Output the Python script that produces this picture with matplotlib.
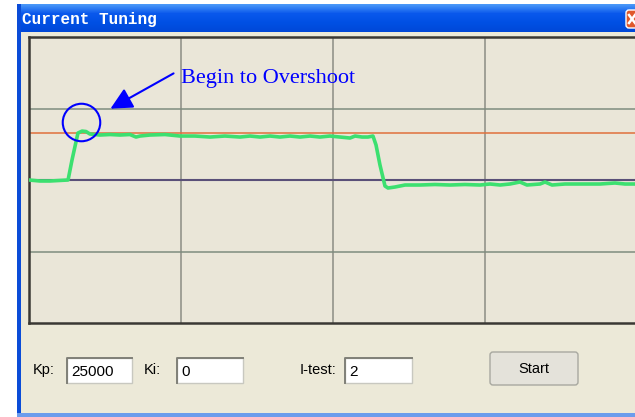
#!/usr/bin/env python3
import numpy as np
import matplotlib
matplotlib.use("Agg")
import matplotlib.pyplot as plt
from matplotlib.colors import LinearSegmentedColormap
from matplotlib.patches import Rectangle, FancyBboxPatch


# trace, in grid divisions (x: 0..4, y: 0..4)
time_div = [
    0.000, 0.072, 0.138, 0.257, 0.283, 0.322, 0.349, 0.375, 0.401, 0.467,
    0.533, 0.599, 0.664, 0.704, 0.730, 0.796, 0.895, 0.993, 1.092, 1.191,
    1.289, 1.388, 1.454, 1.520, 1.586, 1.651, 1.717, 1.783, 1.849, 1.914,
    1.980, 2.046, 2.112, 2.145, 2.191, 2.230, 2.263, 2.283, 2.309, 2.342,
    2.362, 2.408, 2.474, 2.572, 2.671, 2.770, 2.868, 2.967, 3.033, 3.099,
    3.164, 3.230, 3.276, 3.362, 3.395, 3.441, 3.526, 3.625, 3.757, 3.855,
    3.921, 3.987,
]
current_div = [
    2.000, 1.986, 1.986, 2.000, 2.280, 2.657, 2.684, 2.678, 2.643, 2.629,
    2.636, 2.629, 2.636, 2.601, 2.615, 2.629, 2.636, 2.615, 2.615, 2.601,
    2.615, 2.601, 2.615, 2.601, 2.615, 2.601, 2.615, 2.601, 2.615, 2.601,
    2.615, 2.601, 2.587, 2.615, 2.601, 2.601, 2.615, 2.490, 2.210, 1.916,
    1.888, 1.902, 1.930, 1.930, 1.937, 1.930, 1.937, 1.930, 1.944, 1.930,
    1.944, 1.972, 1.930, 1.944, 1.972, 1.930, 1.944, 1.944, 1.944, 1.958,
    1.944, 1.944,
]
setpoint_level = 2.657
base_level = 2.0

x_grid = [1, 2, 3]
y_grid = [1, 3]

title = "Current Tuning"
note = "Begin to Overshoot"
fields = [("Kp:", "25000"), ("Ki:", "0"), ("I-test:", "2")]
button = "Start"

W, H = 635, 417
BEIGE = "#ECE9D8"
PLOT_BG = "#EAE6D8"


fig = plt.figure(figsize=(W / 100, H / 100), dpi=100)
fig.patch.set_facecolor("white")

# window chrome, drawn in pixel coordinates
ui = fig.add_axes([0, 0, 1, 1])
ui.set_xlim(0, W)
ui.set_ylim(H, 0)
ui.axis("off")

ui.add_patch(Rectangle((17, 4), W - 17, H - 4, facecolor=BEIGE, edgecolor="none"))
grad = np.linspace(0, 1, 28).reshape(-1, 1)
xp_blue = LinearSegmentedColormap.from_list("xp", ["#4A98F8", "#0A58EC", "#0050E4", "#0048D8"])
ui.imshow(grad, extent=(17, W, 32, 4), cmap=xp_blue, aspect="auto", zorder=1)
ui.add_patch(Rectangle((17, 4), 4, H - 4, facecolor="#0A4CD8", edgecolor="none", zorder=2))
ui.add_patch(Rectangle((17, 413), W - 17, 4, facecolor="#6C9CEC", edgecolor="none", zorder=2))
ui.text(22, 19, title, color="white", fontsize=11.5, fontweight="bold",
        family="Liberation Mono", va="center", ha="left", zorder=3)
ui.add_patch(FancyBboxPatch((626, 10), 12, 18, boxstyle="round,pad=0,rounding_size=3",
                            facecolor="#E0582C", edgecolor="white", linewidth=1.0, zorder=3))
ui.plot([629, 635], [15, 23], color="white", linewidth=1.8, zorder=4)
ui.plot([629, 635], [23, 15], color="white", linewidth=1.8, zorder=4)

# input fields
label_x = [33, 144, 300]
box_x = [(67, 132), (177, 243), (345, 412)]
for (label, value), lx, (bx0, bx1) in zip(fields, label_x, box_x):
    ui.text(lx, 370, label, fontsize=10.5, family="Liberation Sans", ha="left", va="center", color="black")
    ui.add_patch(Rectangle((bx0, 358), bx1 - bx0, 25, facecolor="white", edgecolor="#C8C8C0",
                           linewidth=1.0, zorder=2))
    ui.plot([bx0, bx0, bx1], [383, 358, 358], color="#808078", linewidth=1.4, zorder=3)
    ui.text(bx0 + 4, 372, value, fontsize=11, family="Liberation Sans", ha="left", va="center",
            color="black", zorder=4)

ui.add_patch(FancyBboxPatch((490, 352), 88, 33, boxstyle="round,pad=0,rounding_size=3",
                            facecolor="#E4E2DA", edgecolor="#A8A8A0", linewidth=1.0, zorder=2))
ui.text(534, 369, button, fontsize=10.5, family="Liberation Sans", ha="center", va="center", zorder=3)

# the scope panel
left, right, top, bottom = 29, 637, 37, 323
ax = fig.add_axes([left / W, 1 - bottom / H, (right - left) / W, (bottom - top) / H])
ax.set_facecolor(PLOT_BG)
ax.set_xlim(0, 4)
ax.set_ylim(0, 4)
ax.set_xticks([])
ax.set_yticks([])
for side in ["left", "top", "bottom"]:
    ax.spines[side].set_color("#3A3834")
    ax.spines[side].set_linewidth(1.8)
ax.spines["right"].set_visible(False)

for xv in x_grid:
    ax.axvline(xv, color="#8C8C84", linewidth=1.1, zorder=1)
for yv in y_grid:
    ax.axhline(yv, color="#7E8C7E", linewidth=1.1, zorder=1)
ax.axhline(setpoint_level, color="#E0703C", linewidth=1.1, zorder=2)
ax.axhline(base_level, color="#5A5078", linewidth=1.5, zorder=2)

ax.plot(time_div, current_div, color="#3CE070", linewidth=2.6, solid_joinstyle="round", zorder=3)

# overshoot marker
ax.plot([0.342], [2.811], marker="o", markersize=27, markerfacecolor="none",
        markeredgecolor="#0000FF", markeredgewidth=1.5, zorder=4)
ax.annotate("", xy=(0.52, 2.979), xytext=(0.967, 3.51),
            arrowprops=dict(arrowstyle="-|>,head_length=1.1,head_width=0.55",
                            color="#0000FF", linewidth=1.5, mutation_scale=12), zorder=4)
ax.text(0.997, 3.357, note, color="#0000FF", fontsize=16, family="Liberation Serif",
        ha="left", va="baseline", zorder=4)

fig.savefig("out.png", dpi=100)
